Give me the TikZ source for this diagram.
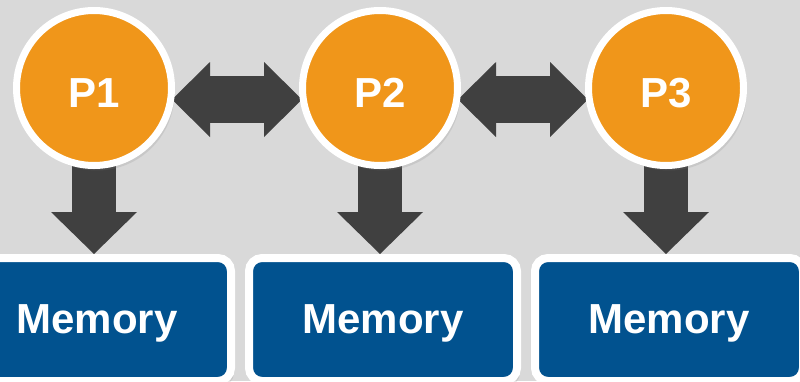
\documentclass[tikz,border=0pt]{standalone}
\usepackage{fontspec}
\setmainfont{Liberation Sans}
\usepackage{xcolor}
\usepackage{tikz}
\usetikzlibrary{positioning,arrows.meta,shadows}
\definecolor{procorange}{RGB}{240,150,26}
\definecolor{memblue}{RGB}{1,82,143}
\definecolor{arrowgray}{RGB}{64,64,64}
\definecolor{backgray}{RGB}{217,217,217}
\pgfdeclarelayer{back}
\pgfdeclarelayer{links}
\pgfsetlayers{back,links,main}

\begin{document}
\begin{tikzpicture}[x=1pt, y=-1pt]
    \tikzstyle{proc} = [circle, minimum size=155pt, inner sep=0pt, text height=39pt, text depth=0pt, draw=white, line width=7pt, fill=procorange, text=white, font=\bfseries\fontsize{42}{50}\selectfont, drop shadow={opacity=0.18, shadow xshift=3pt, shadow yshift=-5pt}]
    \tikzstyle{memory} = [rectangle, rounded corners=13pt, minimum width=268pt, minimum height=123pt, inner sep=0pt, text depth=0pt, draw=white, line width=8pt, fill=memblue, text=white, font=\bfseries\fontsize{42}{50}\selectfont, drop shadow={opacity=0.18, shadow xshift=3pt, shadow yshift=-5pt}]
    \tikzstyle{twoway} = [draw=arrowgray, line width=47pt, {Triangle[length=38pt, width=75pt, line width=0pt]}-{Triangle[length=38pt, width=75pt, line width=0pt]}, shorten <=-3pt, shorten >=-3pt]
    \tikzstyle{oneway} = [draw=arrowgray, line width=44pt, -{Triangle[length=42pt, width=86pt, line width=0pt]}]

    % Background
    \begin{pgfonlayer}{back}
        \fill [backgray] (0,0) rectangle (800,381);
    \end{pgfonlayer}
    \useasboundingbox (0,0) rectangle (800,381);

    % Processors
    \node [proc] (p1) at (94,88) {P1};
    \node [proc, right=124pt of p1] (p2) {P2};
    \node [proc, right=124pt of p2] (p3) {P3};

    % Memories
    \node [memory, below=85pt of p1, xshift=3pt] (m1) {Memory};
    \node [memory, right=10pt of m1] (m2) {Memory};
    \node [memory, right=10pt of m2] (m3) {Memory};

    % Arrows
    \begin{pgfonlayer}{links}
        \draw [twoway] ([yshift=-11.5pt]p1.east) -- ([yshift=-11.5pt]p2.west);
        \draw [twoway] ([yshift=-11.5pt]p2.east) -- ([yshift=-11.5pt]p3.west);
        \draw [oneway] (p1.center) -- (p1 |- m1.north);
        \draw [oneway] (p2.center) -- (p2 |- m2.north);
        \draw [oneway] (p3.center) -- (p3 |- m3.north);
    \end{pgfonlayer}
\end{tikzpicture}
\end{document}
